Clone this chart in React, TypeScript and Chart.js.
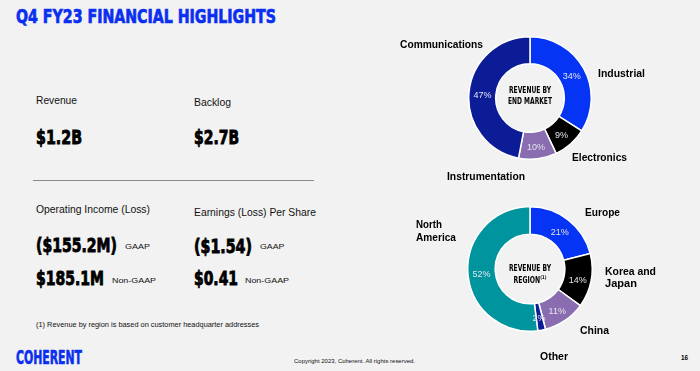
import React, { useEffect, useLayoutEffect, useRef } from 'react';
import { Chart, registerables } from 'chart.js';
Chart.register(...registerables);

// ---- data ----
const marketLabels = ['Industrial', 'Electronics', 'Instrumentation', 'Communications'];
const marketValues = [34, 9, 10, 47];
const marketColors = ['#0534f5', '#000000', '#8a6db0', '#0c1c96'];

const regionLabels = ['Europe', 'Korea and Japan', 'China', 'Other', 'North America'];
const regionValues = [21, 14, 11, 2, 52];
const regionColors = ['#0534f5', '#000000', '#8a6db0', '#0c1c96', '#00959e'];

const BLUE = '#0a2ff0';
const SANS = '"Liberation Sans", Arial, sans-serif';
const COND = '"DejaVu Sans Condensed", "DejaVu Sans", sans-serif';

const pctPlugin = {
  id: 'pctLabels',
  afterDatasetsDraw(chart: any) {
    const ctx = chart.ctx;
    const meta = chart.getDatasetMeta(0);
    const data = chart.data.datasets[0].data;
    ctx.save();
    ctx.font = '9px ' + SANS;
    ctx.fillStyle = '#e4e4ec';
    ctx.textAlign = 'center';
    ctx.textBaseline = 'middle';
    meta.data.forEach((arc: any, i: number) => {
      const p = arc.tooltipPosition();
      ctx.fillText(data[i] + '%', p.x, p.y + 2);
    });
    ctx.restore();
  },
};

function Donut({ cx, cy, r, labels, values, colors }: any) {
  const ref = useRef<HTMLCanvasElement>(null);
  useEffect(() => {
    const c = new Chart(ref.current!, {
      type: 'doughnut',
      data: {
        labels,
        datasets: [{ data: values, backgroundColor: colors, borderColor: '#ffffff', borderWidth: 1.5 }],
      },
      options: {
        responsive: false,
        maintainAspectRatio: false,
        animation: false,
        cutout: '56%',
        layout: { padding: 0 },
        plugins: { legend: { display: false }, tooltip: { enabled: false } },
      },
      plugins: [pctPlugin],
    });
    return () => c.destroy();
  }, []);
  return (
    <canvas
      ref={ref}
      width={r * 2}
      height={r * 2}
      style={{ position: 'absolute', left: cx - r, top: cy - r, width: r * 2, height: r * 2 }}
    />
  );
}

// Text fitted to a measured width; y is the vertical centre of the caps
function T({ x, y, w, size, text, bold, family, color, center, stroke, children }: any) {
  const ref = useRef<HTMLSpanElement>(null);
  useLayoutEffect(() => {
    const el = ref.current;
    if (!el) return;
    el.style.transform = 'none';
    const nat = el.getBoundingClientRect().width;
    if (nat > 0 && w) {
      const s = w / nat;
      el.style.transform = center ? `translateX(-50%) scaleX(${s})` : `scaleX(${s})`;
    } else if (center) el.style.transform = 'translateX(-50%)';
  }, [w]);
  return (
    <span
      ref={ref}
      style={{
        position: 'absolute',
        left: x,
        top: y - 0.49 * size,
        fontSize: size,
        lineHeight: 1,
        fontFamily: family || SANS,
        fontWeight: bold ? 'bold' : 'normal',
        color: color || '#111',
        whiteSpace: 'nowrap',
        display: 'inline-block',
        transformOrigin: center ? 'center center' : 'left center',
        WebkitTextStroke: stroke ? `${stroke}px ${color || '#111'}` : undefined,
      }}
    >
      {text}
      {children}
    </span>
  );
}

export default function App() {
  useEffect(() => {
    document.body.style.margin = '0';
  }, []);
  const big = { size: 19, bold: true, family: COND, color: '#000', stroke: 0.8 };
  const lbl = { size: 10.5, bold: true, color: '#000' };
  return (
    <div
      style={{
        position: 'fixed',
        left: 0,
        top: 0,
        width: 700,
        height: 371,
        background: '#f2f2f2',
        overflow: 'hidden',
      }}
    >
      <T x={16} y={16} w={260} size={20} bold family={COND} color={BLUE} stroke={0.7} text="Q4 FY23 FINANCIAL HIGHLIGHTS" />

      <T x={36} y={100} w={41} size={10.5} text="Revenue" />
      <T x={194} y={102} w={37} size={10.5} text="Backlog" />
      <T x={36} y={137} w={46} {...big} text="$1.2B" />
      <T x={194} y={137.5} w={45} {...big} text="$2.7B" />

      <div style={{ position: 'absolute', left: 33, top: 179.5, width: 281, height: 1.5, background: '#8c8c8c' }} />

      <T x={36} y={209} w={114} size={10.5} text="Operating Income (Loss)" />
      <T x={194} y={212} w={122} size={10.5} text="Earnings (Loss) Per Share" />
      <T x={36} y={245} w={81} {...big} text="($155.2M)" />
      <T x={125} y={247} w={25} size={8} text="GAAP" />
      <T x={36} y={278} w={68} {...big} text="$185.1M" />
      <T x={111.7} y={281} w={44} size={8} text="Non-GAAP" />
      <T x={194.3} y={246} w={58} {...big} text="($1.54)" />
      <T x={259.7} y={247} w={24.5} size={8} text="GAAP" />
      <T x={194.3} y={278.5} w={44} {...big} text="$0.41" />
      <T x={245} y={281} w={44} size={8} text="Non-GAAP" />

      <T x={36} y={325} w={223} size={8} text="(1) Revenue by region is based on customer headquarter addresses" />
      <T x={16} y={357} w={66} size={19} bold family={COND} color={BLUE} stroke={0.6} text="COHERENT" />
      <T x={294} y={361} w={121} size={6} text="Copyright 2023, Coherent. All rights reserved." />
      <T x={681} y={358} w={7} size={8} bold color="#000" text="16" />

      {/* top donut */}
      <Donut cx={530} cy={97.5} r={62} labels={marketLabels} values={marketValues} colors={marketColors} />
      <T x={530} y={91} w={42} size={8} bold family={COND} color="#000" center text="REVENUE BY" />
      <T x={530} y={102} w={44} size={8} bold family={COND} color="#000" center text="END MARKET" />
      <T x={400} y={44} w={83} {...lbl} text="Communications" />
      <T x={598} y={73} w={47} {...lbl} text="Industrial" />
      <T x={572} y={157} w={55} {...lbl} text="Electronics" />
      <T x={447} y={176} w={78} {...lbl} text="Instrumentation" />

      {/* bottom donut */}
      <Donut cx={530} cy={268.5} r={63} labels={regionLabels} values={regionValues} colors={regionColors} />
      <T x={530} y={269} w={42} size={8} bold family={COND} color="#000" center text="REVENUE BY" />
      <T x={530} y={279} w={33} size={8} bold family={COND} color="#000" center text="REGION">
        <sup style={{ fontSize: 5 }}>(1)</sup>
      </T>
      <T x={416} y={224} w={26} {...lbl} text="North" />
      <T x={416} y={237} w={40} {...lbl} text="America" />
      <T x={585} y={212} w={35} {...lbl} text="Europe" />
      <T x={605} y={271} w={51} {...lbl} text="Korea and" />
      <T x={605} y={283} w={32} {...lbl} text="Japan" />
      <T x={580} y={330} w={29} {...lbl} text="China" />
      <T x={540} y={356} w={28} {...lbl} text="Other" />
    </div>
  );
}
